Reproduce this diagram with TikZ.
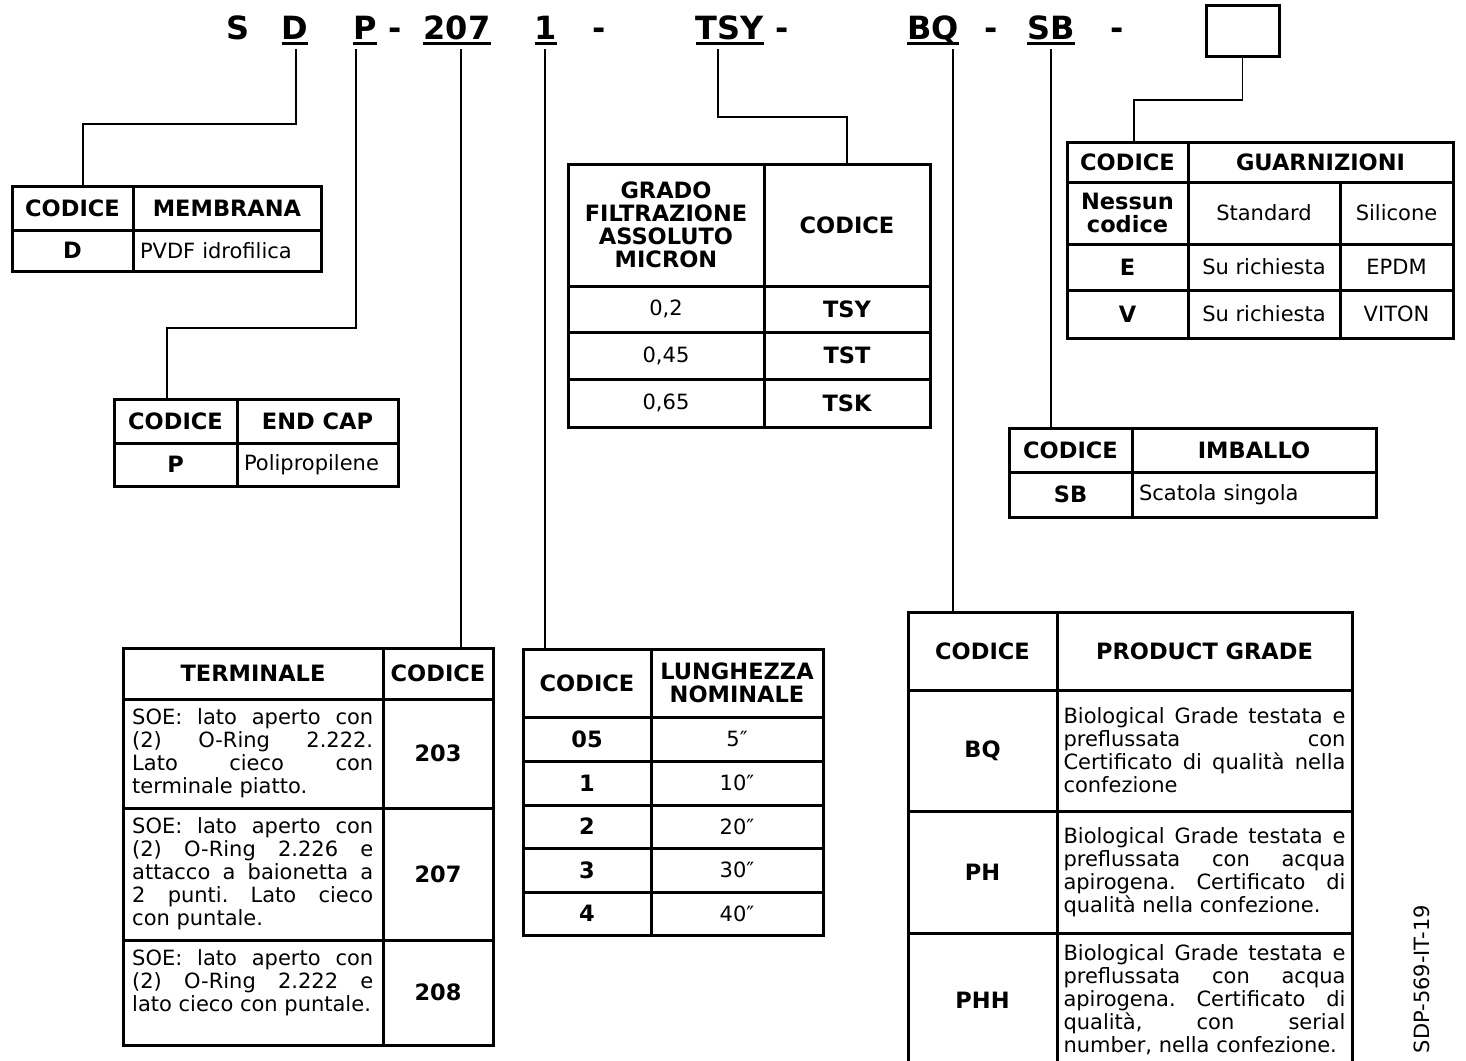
\documentclass[tikz,border=0pt]{standalone}
\usepackage{fontspec}
\setmainfont{DejaVu Sans}
\usetikzlibrary{calc}
\newcommand\txtfont{\fontsize{21}{23}\selectfont}
\newcommand\hdfont{\fontsize{22.5}{23}\selectfont\bfseries}
\newcommand\codefont{\fontsize{32}{36}\selectfont\bfseries}
\tolerance=10000
\hbadness=10000
\hyphenpenalty=10000
\parindent=0pt
\frenchspacing

\begin{document}
\begin{tikzpicture}[x=1pt,y=-1pt,inner sep=0pt,
  cell/.style 2 args={draw,line width=3pt,outer sep=0pt,anchor=north west,minimum width=#1,minimum height=#2,align=center,font=\txtfont},
  hd/.style={font=\hdfont},
  lft/.style={align=left,inner xsep=7pt,text width=#1},
  jst/.style={align=justify,inner xsep=6.5pt,text width=#1},
  jtxt/.style={anchor=north west,align=justify,text width=241pt,font=\txtfont},
  code/.style={font=\codefont,anchor=base},
  uline/.style={line width=3pt},
  conn/.style={line width=1.8pt}]
\useasboundingbox (0,0) rectangle (1466,1060);

\node[code] (hS) at (238,39) {S};
\node[code] (hD) at (295,39) {D};
\node[code] (hP) at (365,39) {P};
\node[code] (hm1) at (395,39) {-};
\node[code] (h207) at (457,39) {207};
\node[code] (h1) at (546,39) {1};
\node[code] (hm2) at (599,39) {-};
\node[code] (hTSY) at (730,39) {TSY};
\node[code] (hm3) at (782,39) {-};
\node[code] (hBQ) at (933,39) {BQ};
\node[code] (hm4) at (991,39) {-};
\node[code] (hSB) at (1051,39) {SB};
\node[code] (hm5) at (1117,39) {-};
\node[draw,line width=3pt,outer sep=0pt,anchor=north west,minimum width=73pt,minimum height=51pt] (hbox) at (1206,5) {};

\draw[uline] ($(hD.base west)+(0,4)$) -- ($(hD.base east)+(0,4)$);
\draw[uline] ($(hP.base west)+(0,4)$) -- ($(hP.base east)+(0,4)$);
\draw[uline] ($(h207.base west)+(0,4)$) -- ($(h207.base east)+(0,4)$);
\draw[uline] ($(h1.base west)+(0,4)$) -- ($(h1.base east)+(0,4)$);
\draw[uline] ($(hTSY.base west)+(0,4)$) -- ($(hTSY.base east)+(0,4)$);
\draw[uline] ($(hBQ.base west)+(0,4)$) -- ($(hBQ.base east)+(0,4)$);
\draw[uline] ($(hSB.base west)+(0,4)$) -- ($(hSB.base east)+(0,4)$);

\node[cell={121pt}{44pt},hd] (mem1) at (12,186) {CODICE};
\node[cell={188pt}{44pt},hd] (mem2) at (133,186) {MEMBRANA};
\node[cell={121pt}{41pt},hd] (mem3) at (12,230) {D};
\node[cell={188pt}{41pt},lft=174pt] (mem4) at (133,230) {PVDF idrofilica};

\node[cell={123pt}{44pt},hd] (cap1) at (114,399) {CODICE};
\node[cell={161pt}{44pt},hd] (cap2) at (237,399) {END CAP};
\node[cell={123pt}{43pt},hd] (cap3) at (114,443) {P};
\node[cell={161pt}{43pt},lft=147pt] (cap4) at (237,443) {Polipropilene};

\node[cell={196pt}{122pt},hd] (gr1) at (568,164) {GRADO\\FILTRAZIONE\\ASSOLUTO\\MICRON};
\node[cell={166pt}{122pt},hd] (gr2) at (764,164) {CODICE};
\node[cell={196pt}{46pt}] (gr3) at (568,286) {0,2};
\node[cell={166pt}{46pt},hd] (gr4) at (764,286) {TSY};
\node[cell={196pt}{47pt}] (gr5) at (568,332) {0,45};
\node[cell={166pt}{47pt},hd] (gr6) at (764,332) {TST};
\node[cell={196pt}{48pt}] (gr7) at (568,379) {0,65};
\node[cell={166pt}{48pt},hd] (gr8) at (764,379) {TSK};

\node[cell={121pt}{40pt},hd] (gu1) at (1067,142) {CODICE};
\node[cell={265pt}{40pt},hd] (gu2) at (1188,142) {GUARNIZIONI};
\node[cell={121pt}{62pt},hd] (gu3) at (1067,182) {Nessun\\codice};
\node[cell={152pt}{62pt}] (gu4) at (1188,182) {Standard};
\node[cell={113pt}{62pt}] (gu5) at (1340,182) {Silicone};
\node[cell={121pt}{46pt},hd] (gu6) at (1067,244) {E};
\node[cell={152pt}{46pt}] (gu7) at (1188,244) {Su richiesta};
\node[cell={113pt}{46pt}] (gu8) at (1340,244) {EPDM};
\node[cell={121pt}{48pt},hd] (gu9) at (1067,290) {V};
\node[cell={152pt}{48pt}] (gu10) at (1188,290) {Su richiesta};
\node[cell={113pt}{48pt}] (gu11) at (1340,290) {VITON};

\node[cell={123pt}{44pt},hd] (im1) at (1009,428) {CODICE};
\node[cell={244pt}{44pt},hd] (im2) at (1132,428) {IMBALLO};
\node[cell={123pt}{45pt},hd] (im3) at (1009,472) {SB};
\node[cell={244pt}{45pt},lft=230pt] (im4) at (1132,472) {Scatola singola};

\node[cell={260pt}{51pt},hd] (ter1) at (123,648) {TERMINALE};
\node[cell={110pt}{51pt},hd] (ter2) at (383,648) {CODICE};
\node[cell={260pt}{109pt}] (ter3) at (123,699) {};
\node[cell={110pt}{109pt},hd] (ter4) at (383,699) {203};
\node[cell={260pt}{132pt}] (ter5) at (123,808) {};
\node[cell={110pt}{132pt},hd] (ter6) at (383,808) {207};
\node[cell={260pt}{105pt}] (ter7) at (123,940) {};
\node[cell={110pt}{105pt},hd] (ter8) at (383,940) {208};
\node[jtxt] (ter3t) at ($(ter3.north west)+(9,9)$) {SOE: lato aperto con\linebreak (2) O-Ring 2.222.\linebreak Lato cieco con\linebreak terminale piatto.};
\node[jtxt] (ter5t) at ($(ter5.north west)+(9,9)$) {SOE: lato aperto con\linebreak (2) O-Ring 2.226 e\linebreak attacco a baionetta a\linebreak 2 punti. Lato cieco\linebreak con puntale.};
\node[jtxt] (ter7t) at ($(ter7.north west)+(9,9)$) {SOE: lato aperto con\linebreak (2) O-Ring 2.222 e\linebreak lato cieco con puntale.};

\node[cell={128pt}{68pt},hd] (lun1) at (523,649) {CODICE};
\node[cell={172pt}{68pt},hd] (lun2) at (651,649) {LUNGHEZZA\\NOMINALE};
\node[cell={128pt}{44pt},hd] (lun3) at (523,717) {05};
\node[cell={172pt}{44pt}] (lun4) at (651,717) {5″};
\node[cell={128pt}{44pt},hd] (lun5) at (523,761) {1};
\node[cell={172pt}{44pt}] (lun6) at (651,761) {10″};
\node[cell={128pt}{43pt},hd] (lun7) at (523,805) {2};
\node[cell={172pt}{43pt}] (lun8) at (651,805) {20″};
\node[cell={128pt}{44pt},hd] (lun9) at (523,848) {3};
\node[cell={172pt}{44pt}] (lun10) at (651,848) {30″};
\node[cell={128pt}{43pt},hd] (lun11) at (523,892) {4};
\node[cell={172pt}{43pt}] (lun12) at (651,892) {40″};

\node[cell={149pt}{78pt},hd] (pg1) at (908,612) {CODICE};
\node[cell={295pt}{78pt},hd] (pg2) at (1057,612) {PRODUCT GRADE};
\node[cell={149pt}{121pt},hd] (pg3) at (908,690) {BQ};
\node[cell={295pt}{121pt},jst=282pt] (pg4) at (1057,690) {Biological Grade testata e\linebreak preflussata con\linebreak Certificato di qualità nella\linebreak confezione};
\node[cell={149pt}{122pt},hd] (pg5) at (908,811) {PH};
\node[cell={295pt}{122pt},jst=282pt] (pg6) at (1057,811) {Biological Grade testata e\linebreak preflussata con acqua\linebreak apirogena. Certificato di\linebreak qualità nella confezione.};
\node[cell={149pt}{134pt},hd] (pg7) at (908,933) {PHH};
\node[cell={295pt}{134pt},jst=282pt] (pg8) at (1057,933) {Biological Grade testata e\linebreak preflussata con acqua\linebreak apirogena. Certificato di\linebreak qualità, con serial\linebreak number, nella confezione.};

\node[font=\fontsize{21}{24}\selectfont,rotate=90] (ref) at (1422,979) {SDP-569-IT-19};

\coordinate (tD) at ($(mem1.north west)+(71,0)$);
\coordinate (tP) at ($(cap1.north west)+(53,0)$);
\coordinate (t207) at ($(h207.base)+(4,10)$);
\coordinate (t1) at ($(h1.base)+(-1,10)$);
\coordinate (tBQ) at ($(hBQ.base)+(20,10)$);
\coordinate (tSB) at ($(hSB.base)+(0,10)$);
\coordinate (tG) at ($(gu1.north west)+(67,0)$);

\draw[conn] ($(hD.base)+(1,10)$) -- ++(0,75) -| (tD);
\draw[conn] ($(hP.base)+(-9,10)$) -- ++(0,279) -| (tP);
\draw[conn] (t207) -- (t207 |- ter2.north);
\draw[conn] (t1) -- (t1 |- lun1.north);
\draw[conn] ($(hTSY.base)+(-12,10)$) -- ++(0,68) -| (gr2.north);
\draw[conn] (tBQ) -- (tBQ |- pg1.north);
\draw[conn] (tSB) -- (tSB |- im1.north);
\draw[conn] (hbox.south) -- ++(0,44) -| (tG);
\end{tikzpicture}
\end{document}
